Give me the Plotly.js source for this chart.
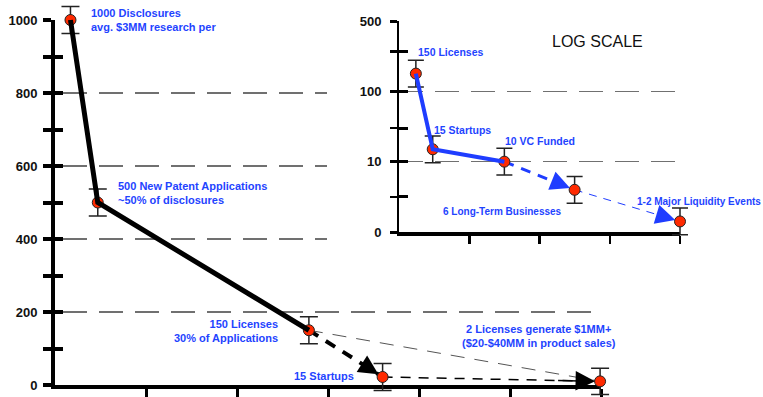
<!DOCTYPE html>
<html>
<head>
<meta charset="utf-8">
<script src="https://cdn.plot.ly/plotly-3.0.1.min.js"></script>
<style>html,body{margin:0;padding:0;background:#fff;}#chart{width:763px;height:397px;}</style>
</head>
<body>
<div id="chart"></div>
<script>
// ---- Main (linear) funnel data ----
const mainStages = ['Disclosures', 'Patent Applications', 'Licenses', 'Startups', 'Licenses generating $1MM+'];
const mainX = [0.17, 0.47, 2.79, 3.6, 5.99];
const mainY = [1000, 500, 150, 22, 10];
const mainErr = [37, 37, 37, 37, 36];
const mainYTicks = [0, 200, 400, 600, 800, 1000];
const mainXTicks = [1, 2, 3, 4, 5, 6];
const mainGridUpper = [400, 600, 800, 1000];
const mainGridLower = [200];
const mainAllTicks = [0, 100, 200, 300, 400, 500, 600, 700, 800, 900, 1000];

// ---- Inset ("log scale") data ----
const insetStages = ['Licenses', 'Startups', 'VC Funded', 'Long-Term Businesses', 'Major Liquidity Events'];
const insetX = [0.24, 0.48, 1.5, 2.5, 4.0];
const insetY = [150, 15, 10, 6, 1.5];
const insetTickVals = [0, 10, 100, 500];
const insetTickText = ['0', '10', '100', '500'];
const insetMinorTicks = [5, 30, 250];
const insetXTicks = [1, 2, 3, 4];

// piecewise scale used by the inset axis: 0-10 linear, 10-100 log, 100-500 log
function fakeLog(v) {
  if (v <= 10) return v / 10;
  if (v <= 100) return 1 + Math.log10(v / 10);
  return 2 + Math.log(v / 100) / Math.log(5);
}
const insetPos = insetY.map(fakeLog);
const insetErr = insetY.map(() => 0.19);

const W = 763, H = 397;
const px = x => x / W, py = y => 1 - y / H;

// pixel frames of the two charts
const M = {x0: 55, x1: 601, y0: 385, y1: 20, xr: [0, 6], yr: [0, 1000]};
const I = {x0: 399, x1: 680, y0: 232, y1: 21, xr: [0, 4], yr: [0, 3]};
// value at a pixel, for an enlarged (unclipped) data area with the same scale
const valX = (F, p) => F.xr[0] + (p - F.x0) / (F.x1 - F.x0) * (F.xr[1] - F.xr[0]);
const valY = (F, p) => F.yr[0] + (F.y0 - p) / (F.y0 - F.y1) * (F.yr[1] - F.yr[0]);

const RED = '#ff2a00', BLUE = '#1f3dff', LBL = '#1f44ff';
const mk = {color: RED, size: 11, line: {color: '#222', width: 1}};
const empty = (xa, ya) => ({x: [], y: [], xaxis: xa, yaxis: ya, mode: 'lines', hoverinfo: 'skip'});

const traces = [
  empty('x', 'y'), empty('x2', 'y2'), empty('x3', 'y3'), empty('x4', 'y4'), empty('x5', 'y5'), empty('x6', 'y6'),
  // main chart data (x7/y7)
  {x: [mainX[2], mainX[4]], y: [mainY[2], mainY[4]], mode: 'lines', line: {color: '#555', width: 1, dash: '14px,10px'}, xaxis: 'x7', yaxis: 'y7'},
  {x: mainX.slice(3, 5), y: mainY.slice(3, 5), mode: 'lines', line: {color: 'black', width: 1.5, dash: '10px,8px'}, xaxis: 'x7', yaxis: 'y7'},
  {x: mainX.slice(2, 4), y: mainY.slice(2, 4), mode: 'lines', line: {color: 'black', width: 4, dash: '11px,9px'}, xaxis: 'x7', yaxis: 'y7'},
  {x: mainX, y: mainY, text: mainStages, mode: 'markers', xaxis: 'x7', yaxis: 'y7', cliponaxis: false,
   marker: mk, error_y: {type: 'data', array: mainErr, color: '#222', thickness: 1.5, width: 9}},
  {x: mainX.slice(0, 3), y: mainY.slice(0, 3), mode: 'lines', line: {color: 'black', width: 5}, xaxis: 'x7', yaxis: 'y7'},
  // inset data (x8/y8)
  {x: insetX.slice(2, 4), y: insetPos.slice(2, 4), mode: 'lines', line: {color: BLUE, width: 3, dash: '10px,8px'}, xaxis: 'x8', yaxis: 'y8'},
  {x: insetX.slice(3, 5), y: insetPos.slice(3, 5), mode: 'lines', line: {color: BLUE, width: 1, dash: '8px,7px'}, xaxis: 'x8', yaxis: 'y8'},
  {x: insetX, y: insetPos, text: insetStages, mode: 'markers', xaxis: 'x8', yaxis: 'y8', cliponaxis: false,
   marker: mk, error_y: {type: 'data', array: insetErr, color: '#222', thickness: 1.5, width: 8}},
  {x: insetX.slice(0, 3), y: insetPos.slice(0, 3), mode: 'lines', line: {color: BLUE, width: 4}, xaxis: 'x8', yaxis: 'y8'}
];

function arrowTo(xs, ys, i, j, xa, ya, color, w, size) {
  const f = 0.2;
  return {x: xs[j], y: ys[j], ax: xs[j] - f * (xs[j] - xs[i]), ay: ys[j] - f * (ys[j] - ys[i]),
    xref: xa, yref: ya, axref: xa, ayref: ya, text: '', showarrow: true,
    arrowhead: 2, arrowsize: size, arrowwidth: w, arrowcolor: color, standoff: 5};
}

function label(text, x, y, size, xanchor, align) {
  return {text: text.split('<br>').map(t => '<b>' + t + '</b>').join('<br>'), x: px(x), y: py(y),
    xref: 'paper', yref: 'paper', xanchor: xanchor || 'left', yanchor: 'middle', align: align || 'left',
    showarrow: false, font: {family: 'Arial, Liberation Sans', size: size, color: LBL}};
}

const annotations = [
  arrowTo(mainX, mainY, 2, 3, 'x7', 'y7', 'black', 3, 1.3),
  arrowTo(mainX, mainY, 3, 4, 'x7', 'y7', 'black', 1.5, 2.6),
  arrowTo(insetX, insetPos, 2, 3, 'x8', 'y8', BLUE, 3, 1.3),
  arrowTo(insetX, insetPos, 3, 4, 'x8', 'y8', BLUE, 1.5, 2.6),
  label('1000 Disclosures<br>avg. $3MM research per', 89, 20, 11),
  label('500 New Patent Applications<br>~50% of disclosures', 116, 193, 11),
  label('150 Licenses<br>30% of Applications', 280, 331, 11, 'right', 'right'),
  label('15 Startups', 356, 376, 11, 'right', 'right'),
  label('2 Licenses generate $1MM+<br>($20-$40MM in product sales)', 539, 336, 11, 'center', 'center'),
  label('150 Licenses', 416, 52, 10.5),
  label('15 Startups', 432, 130, 10.5),
  label('10 VC Funded', 503, 141, 10.5),
  label('6 Long-Term Businesses', 441, 212, 10),
  label('1-2 Major Liquidity Events', 763, 201, 10, 'right', 'right'),
  {text: 'LOG SCALE', x: px(597), y: py(42), xref: 'paper', yref: 'paper', xanchor: 'center', yanchor: 'middle',
   showarrow: false, font: {family: 'Arial, Liberation Sans', size: 16, color: '#111'}}
];

const tickFont = {family: 'Arial, Liberation Sans', size: 13, color: '#111', weight: 'bold'};
const grid = {showgrid: true, gridcolor: '#707070', gridwidth: 1.5, griddash: '24px,12px'};
const hidden = {showticklabels: false, ticks: '', showline: false, zeroline: false};
const off = {visible: false};
const mainDom = [py(M.y0), py(M.y1)];
const insetDom = [py(I.y0), py(I.y1)];

const layout = {
  width: W, height: H, margin: {l: 0, r: 0, t: 0, b: 0},
  paper_bgcolor: 'white', plot_bgcolor: 'rgba(0,0,0,0)', showlegend: false,
  // main frame: axis lines, outside ticks, labels
  xaxis: {domain: [px(M.x0), px(M.x1)], range: M.xr, anchor: 'y', tickvals: mainXTicks,
    ticks: 'outside', ticklen: 12, tickwidth: 3, tickcolor: 'black', showticklabels: false,
    showline: true, linecolor: 'black', linewidth: 4, showgrid: false, zeroline: false},
  yaxis: {domain: mainDom, range: M.yr, anchor: 'x', tickvals: mainYTicks,
    ticks: 'outside', ticklen: 8, tickwidth: 4, tickcolor: 'black', tickfont: tickFont, ticklabelstandoff: 3,
    minor: {tickvals: mainAllTicks, ticks: 'outside', ticklen: 8, tickwidth: 4, tickcolor: 'black', showgrid: false},
    showline: true, linecolor: 'black', linewidth: 4, zeroline: false, showgrid: false},
  // inset frame with its grid
  xaxis2: {domain: [px(I.x0), px(I.x1)], range: I.xr, anchor: 'y2', tickvals: insetXTicks,
    ticks: 'outside', ticklen: 8, tickwidth: 2.5, tickcolor: 'black', showticklabels: false,
    showline: true, linecolor: 'black', linewidth: 4, showgrid: false, zeroline: false},
  yaxis2: {domain: insetDom, range: I.yr, anchor: 'x2',
    tickvals: insetTickVals.map(fakeLog), ticktext: insetTickText,
    ticks: 'outside', ticklen: 7, tickwidth: 3, tickcolor: 'black', tickfont: tickFont, ticklabelstandoff: 6,
    minor: {tickvals: insetMinorTicks.map(fakeLog), ticks: 'outside', ticklen: 7, tickwidth: 2.5, tickcolor: 'black', showgrid: false},
    showline: true, linecolor: 'black', linewidth: 2, zeroline: false, ...grid},
  // main grid: upper lines stop before the inset, the 200 line runs across
  xaxis3: {domain: [px(63), px(327)], range: [0, 1], anchor: 'y3', showgrid: false, ...hidden},
  yaxis3: {domain: mainDom, range: M.yr, anchor: 'x3', tickvals: mainGridUpper, ...hidden, ...grid},
  xaxis4: {domain: [px(63), px(M.x1)], range: [0, 1], anchor: 'y4', showgrid: false, ...hidden},
  yaxis4: {domain: mainDom, range: M.yr, anchor: 'x4', tickvals: mainGridLower, ...hidden, ...grid},
  // inner halves of the crossing tick marks
  xaxis5: {domain: [px(M.x0), px(M.x0 + 8)], range: [0, 1], anchor: 'y5', showgrid: false, ...hidden},
  yaxis5: {domain: mainDom, range: M.yr, anchor: 'x5', tickvals: mainAllTicks.slice(1), ...hidden,
    showgrid: true, gridcolor: 'black', gridwidth: 4},
  xaxis6: {domain: [px(I.x0), px(I.x0 + 9)], range: [0, 1], anchor: 'y6', showgrid: false, ...hidden},
  yaxis6: {domain: insetDom, range: I.yr, anchor: 'x6',
    tickvals: insetTickVals.concat(insetMinorTicks).map(fakeLog).filter(v => v > 0), ...hidden,
    showgrid: true, gridcolor: 'black', gridwidth: 3},
  // enlarged data areas with the same scales (so marks are not clipped)
  xaxis7: {domain: [px(35), px(630)], range: [valX(M, 35), valX(M, 630)], anchor: 'y7', ...off},
  yaxis7: {domain: [0, 1], range: [valY(M, H), valY(M, 0)], anchor: 'x7', ...off},
  xaxis8: {domain: [px(385), px(710)], range: [valX(I, 385), valX(I, 710)], anchor: 'y8', ...off},
  yaxis8: {domain: [py(250), 1], range: [valY(I, 250), valY(I, 0)], anchor: 'x8', ...off},
  annotations: annotations
};

Plotly.newPlot('chart', traces, layout, {displayModeBar: false, staticPlot: true});
</script>
</body>
</html>
